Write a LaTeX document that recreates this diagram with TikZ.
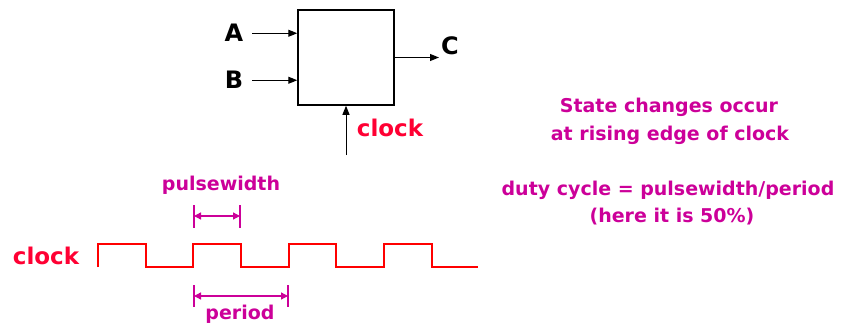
\documentclass[tikz,border=0pt]{standalone}
\usepackage{fontspec}
\setmainfont{DejaVu Sans}
\usetikzlibrary{arrows.meta}
\definecolor{clkred}{RGB}{255,0,0}
\definecolor{lblred}{RGB}{255,0,51}
\definecolor{notemag}{RGB}{204,0,153}
\begin{document}
\begin{tikzpicture}[x=1pt, y=-1pt, node distance=47pt,
    every node/.style={inner sep=0pt},
    port/.style={font=\fontsize{24}{28}\selectfont\bfseries},
    clklbl/.style={lblred, anchor=base, font=\fontsize{23}{27}\selectfont\bfseries},
    note/.style={notemag, anchor=base, font=\fontsize{19}{22}\selectfont\bfseries},
    sig/.style={-{Triangle[length=9pt,width=7pt]}, line width=1pt},
    dim/.style={{Triangle[length=7pt,width=7pt]}-{Triangle[length=7pt,width=7pt]}, notemag, line width=1.3pt},
    tick/.style={notemag, line width=1.3pt}]
    \useasboundingbox (0,0) rectangle (842,326);

    % block with its inputs and output
    \node (ff) [draw, line width=1.5pt, minimum width=96pt, minimum height=95pt] at (346,57.5) {};
    \node (A) [port, anchor=base] at (234,42) {A};
    \node (B) [port, below of=A] {B};
    \node (C) [port, anchor=base] at (450,55) {C};
    \node (clktop) [clklbl] at (390,136) {clock};
    \coordinate (clkin) at (346,155);

    \draw[sig] ([xshift=9pt]A.east) -- (ff.west |- A);
    \draw[sig] ([xshift=9pt]B.east) -- (ff.west |- B);
    \draw[sig] (ff.east) -- ([xshift=-2pt]C.west |- ff.east);
    \draw[sig] (clkin) -- (ff.south);

    % clock waveform
    \node (clk) [clklbl] at (46,264) {clock};
    \draw[clkred, line width=2pt] (98,267)
        \foreach \i in {0,...,3} {
            -- ({98+95.4*\i},267) -- ({98+95.4*\i},244)
            -- ({145.5+95.4*\i},244) -- ({145.5+95.4*\i},267)
        } -- (478,267);

    % pulsewidth and period
    \coordinate (pw1) at (194,216);
    \coordinate (pw2) at (240,216);
    \draw[tick] ([yshift=11pt]pw1) -- ([yshift=-12pt]pw1);
    \draw[tick] ([yshift=11pt]pw2) -- ([yshift=-12pt]pw2);
    \draw[dim] (pw1) -- (pw2);
    \node (pwlbl) [note] at (221,190) {pulsewidth};

    \coordinate (per1) at (194,296);
    \coordinate (per2) at (288,296);
    \draw[tick] ([yshift=11pt]per1) -- ([yshift=-11pt]per1);
    \draw[tick] ([yshift=11pt]per2) -- ([yshift=-11pt]per2);
    \draw[dim] (per1) -- (per2);
    \node (perlbl) [note] at (240,319) {period};

    % notes
    \node (note1) [note] at (669,112) {State changes occur};
    \node (note2) [note] at (670,140) {at rising edge of clock};
    \node (note3) [note] at (668,195) {duty cycle = pulsewidth/period};
    \node (note4) [note] at (672,222) {(here it is 50\%)};
\end{tikzpicture}
\end{document}
